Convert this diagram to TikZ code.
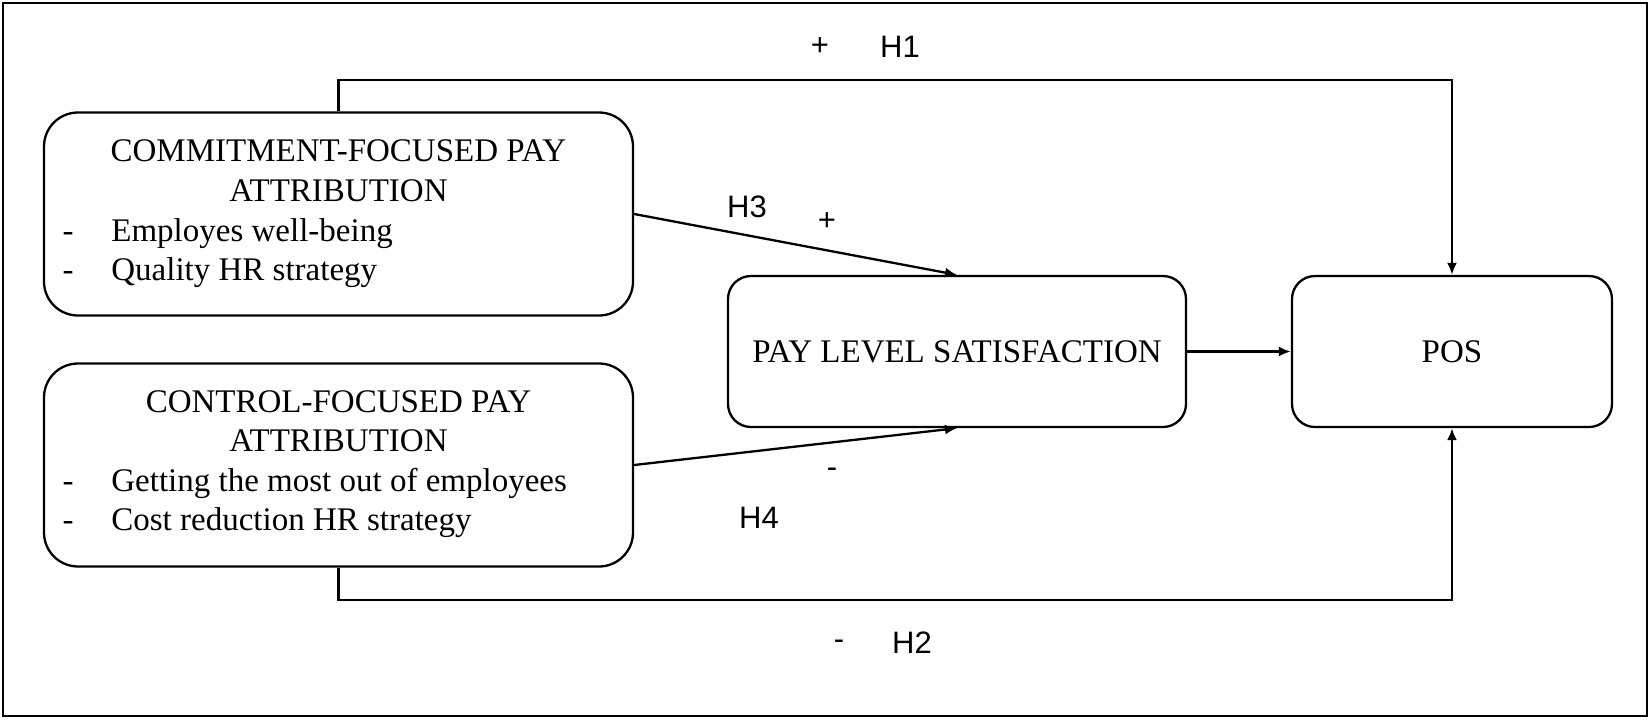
\documentclass[tikz,border=0pt]{standalone}
\usepackage{fontspec}
\setmainfont{Liberation Serif}
\newfontfamily\lblfont{Liberation Sans}
\usetikzlibrary{arrows.meta}
\begin{document}
\begin{tikzpicture}[x=0.5pt,y=-0.5pt,
  frameline/.style={draw,line width=1pt},
  bigbox/.style={draw,line width=1.15pt,rounded corners=17pt,minimum width=294.5pt,minimum height=101.5pt,inner sep=0pt},
  smallbox/.style={draw,line width=1.15pt,rounded corners=11.5pt,minimum height=75.5pt,inner sep=0pt,font=\fontsize{16.5}{20}\selectfont},
  hdr/.style={font=\fontsize{16.5}{20}\selectfont,inner sep=0pt,anchor=base},
  itm/.style={font=\fontsize{16.5}{20}\selectfont,inner sep=0pt,anchor=base west},
  dsh/.style={font=\fontsize{16.5}{20}\selectfont,inner sep=0pt,anchor=base},
  lbl/.style={font=\lblfont\fontsize{15.5}{18}\selectfont,inner sep=0pt},
  conn/.style={line width=1.15pt,-{Latex[length=6pt,width=5pt]}}]
\useasboundingbox (0,0) rectangle (1650,719);
\draw[frameline] (3,3) rectangle (1647,716);

% boxes
\node[bigbox] (c1) at (338.5,214) {};
\node[bigbox] (c2) at (338.5,465) {};
\node[smallbox,minimum width=229pt] (pls) at (957,351.5) {PAY LEVEL SATISFACTION};
\node[smallbox,minimum width=160pt] (pos) at (1452,351.5) {POS};

% box 1 text
\node[hdr] (c1h1) at (338.5,161) {COMMITMENT-FOCUSED PAY};
\node[hdr] (c1h2) at (338.5,201) {ATTRIBUTION};
\node[dsh] (c1d1) at (68,241) {-};
\node[itm] (c1i1) at (111,241) {Employes well-being};
\node[dsh] (c1d2) at (68,280) {-};
\node[itm] (c1i2) at (111,280) {Quality HR strategy};

% box 2 text
\node[hdr] (c2h1) at (338.5,412) {CONTROL-FOCUSED PAY};
\node[hdr] (c2h2) at (338.5,451) {ATTRIBUTION};
\node[dsh] (c2d1) at (68,491) {-};
\node[itm] (c2i1) at (111,491) {Getting the most out of employees};
\node[dsh] (c2d2) at (68,530) {-};
\node[itm] (c2i2) at (111,530) {Cost reduction HR strategy};

% connectors
\coordinate (toprow) at (339,80);
\coordinate (botrow) at (339,600);
\draw[conn] (c1.north) -- (c1.north |- toprow) -| (pos.north);
\draw[conn] (c2.south) -- (c2.south |- botrow) -| (pos.south);
\draw[conn] (c1.east) -- (pls.north);
\draw[conn] (c2.east) -- (pls.south);
\draw[conn] (pls.east) -- (pos.west);

% labels
\node[lbl] (p1) at (820,47) {+};
\node[lbl] (h1) at (900,47) {H1};
\node[lbl] (h3) at (747,207) {H3};
\node[lbl] (p3) at (827,222) {+};
\node[lbl] (m4) at (832,473) {-};
\node[lbl] (h4) at (759,518) {H4};
\node[lbl] (m2) at (839,645) {-};
\node[lbl] (h2) at (912,643) {H2};
\end{tikzpicture}
\end{document}
